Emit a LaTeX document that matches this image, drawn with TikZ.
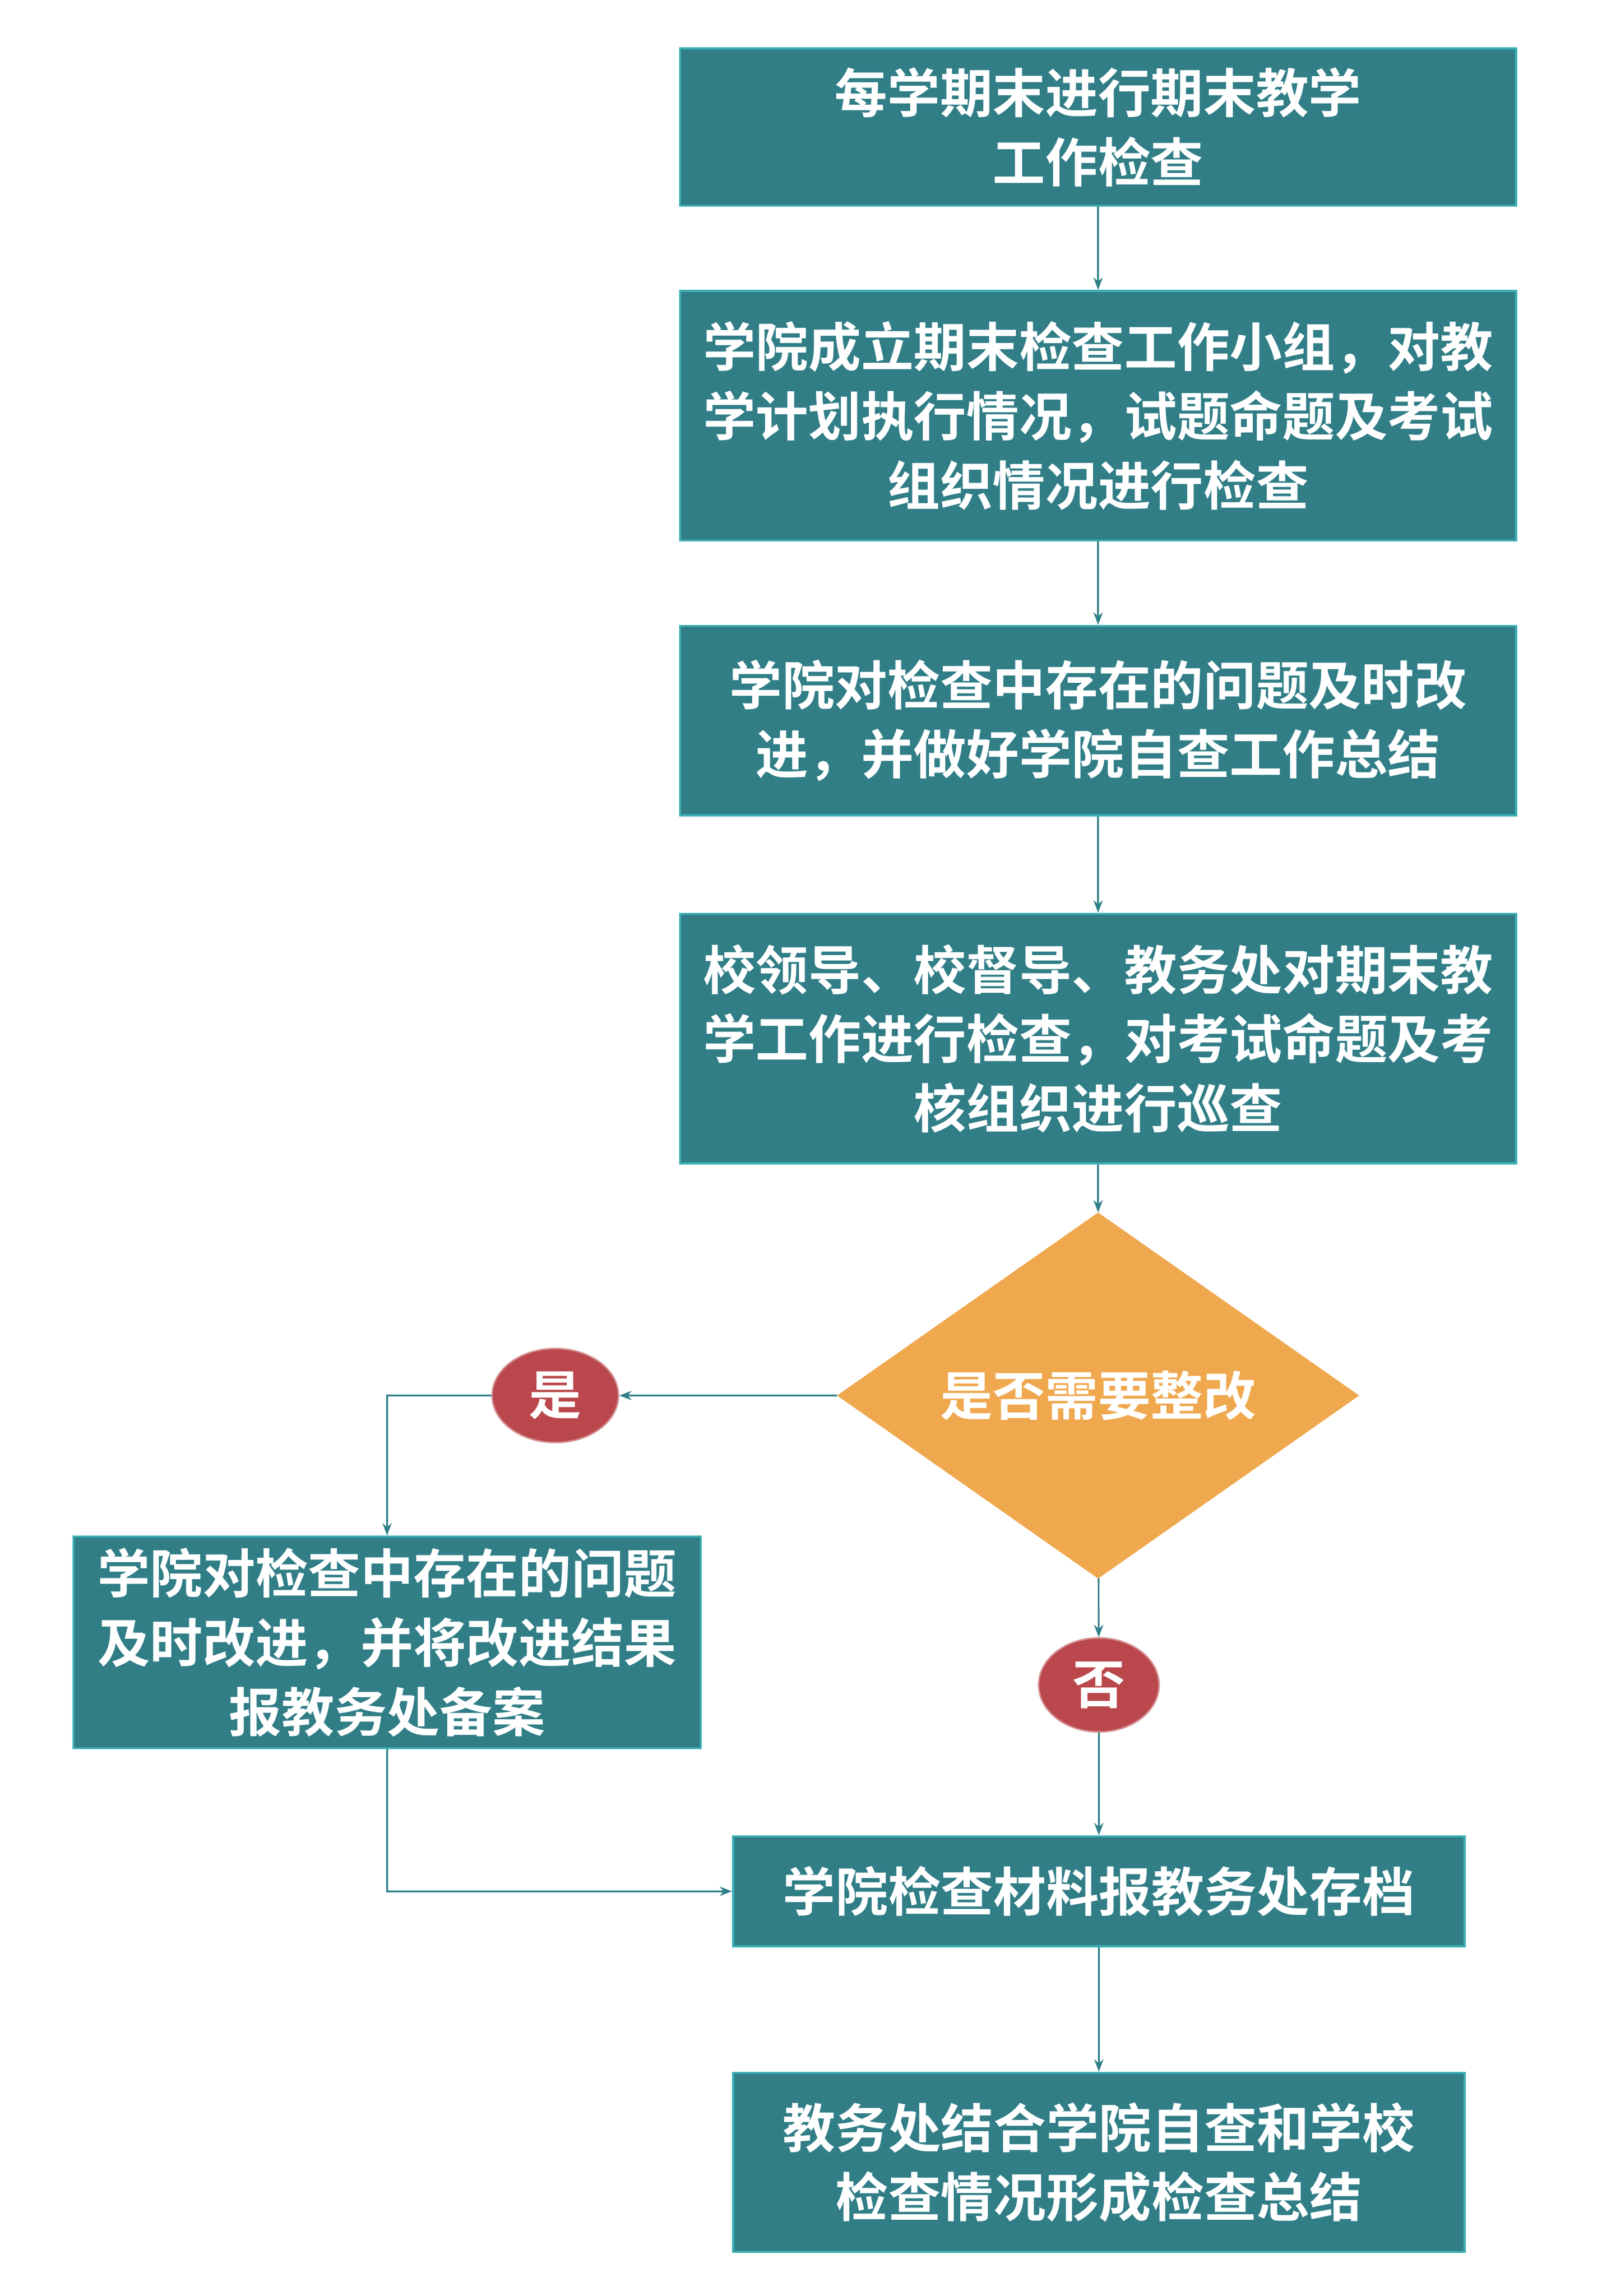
\documentclass[tikz,border=0pt]{standalone}
\usepackage{fontspec}
\newfontfamily\cjk{Noto Sans CJK SC}[BoldFont={Noto Sans CJK SC Bold}]
\usetikzlibrary{shapes.geometric,arrows.meta}
\definecolor{boxfill}{HTML}{317E87}
\definecolor{boxline}{HTML}{3AAFB5}
\definecolor{diafill}{HTML}{EFA84E}
\definecolor{circfill}{HTML}{B9474C}
\definecolor{arrowc}{HTML}{2F7F88}
\begin{document}
\begin{tikzpicture}[x=0.05cm,y=-0.05cm,
  txt/.style={font=\cjk\bfseries\fontsize{51}{67}\selectfont,text=white,align=center},
  box/.style={txt,draw=boxline,fill=boxfill,line width=2pt,inner sep=0pt},
  dia/.style={txt,diamond,fill=diafill,draw=diafill,inner sep=0pt},
  circ/.style={txt,ellipse,fill=circfill,draw=circfill!60!white,line width=1.5pt,inner sep=0pt},
  arr/.style={draw=arrowc,line width=1.6pt,-{Stealth[length=12pt,width=9pt]}}]
\useasboundingbox (0,0) rectangle (1100,1563);
\node[box,minimum width=569\pgflinewidth*0+28.45cm,minimum height=5.35cm] (b1) at (747.5,86.5) {每学期末进行期末教学\\工作检查};
\node[box,minimum width=28.45cm,minimum height=8.5cm] (b2) at (747.5,283) {学院成立期末检查工作小组，对教\\学计划执行情况，试题命题及考试\\组织情况进行检查};
\node[box,minimum width=28.45cm,minimum height=6.45cm] (b3) at (747.5,490.5) {学院对检查中存在的问题及时改\\进，并做好学院自查工作总结};
\node[box,minimum width=28.45cm,minimum height=8.5cm] (b4) at (747.5,707) {校领导、校督导、教务处对期末教\\学工作进行检查，对考试命题及考\\核组织进行巡查};
\node[dia,minimum width=17.75cm,minimum height=7.2cm] (d) at (747.5,950) {是否需要整改};
\node[circ,minimum width=4.3cm,minimum height=3.2cm] (yes) at (378,950) {是};
\node[box,minimum width=21.35cm,minimum height=7.2cm] (l) at (263.5,1118) {学院对检查中存在的问题\\及时改进，并将改进结果\\报教务处备案};
\node[circ,minimum width=4.1cm,minimum height=3.2cm] (no) at (748,1147) {否};
\node[box,minimum width=24.9cm,minimum height=3.75cm] (b5) at (748,1287.5) {学院检查材料报教务处存档};
\node[box,minimum width=24.9cm,minimum height=6.1cm] (b6) at (748,1472) {教务处结合学院自查和学校\\检查情况形成检查总结};
\draw[arr] (b1) -- (b2);
\draw[arr] (b2) -- (b3);
\draw[arr] (b3) -- (b4);
\draw[arr] (b4) -- (d);
\draw[arr] (d) -- (yes);
\draw[arr] (yes.west) -| (l.north);
\draw[arr] (d) -- (no);
\draw[arr] (no) -- (b5);
\draw[arr] (l.south) |- (b5.west);
\draw[arr] (b5) -- (b6);
\end{tikzpicture}
\end{document}
